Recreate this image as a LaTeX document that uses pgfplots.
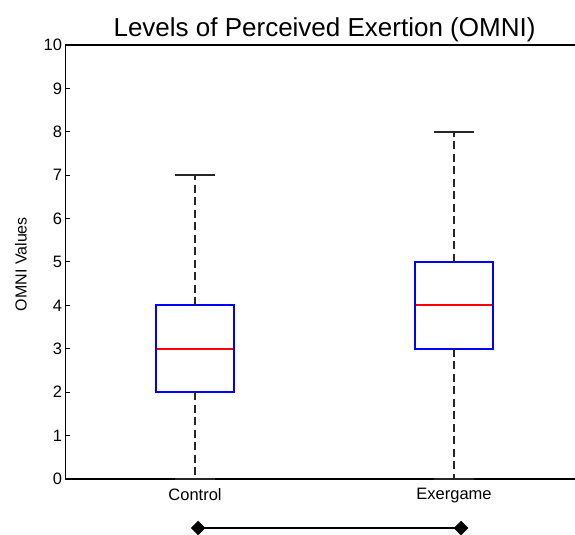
\documentclass[border=0pt]{standalone}
\usepackage{pgfplots}
\pgfplotsset{compat=1.18}
\usepackage{fontspec}
\setmainfont{Liberation Sans}
\definecolor{medred}{RGB}{255,0,0}
\definecolor{boxblue}{RGB}{0,0,255}
\begin{document}
\begin{tikzpicture}
\begin{axis}[
  scale only axis,
  width=509.5bp, height=434bp,
  xmin=0.5, xmax=2.467,
  ymin=0, ymax=10,
  axis x line*=box,
  axis y line*=left,
  axis line style={line width=1.2bp, black},
  tick align=inside,
  ytick={0,1,...,10},
  xtick={1,2},
  xticklabels={Control,Exergame},
  major x tick style={draw=none},
  major y tick style={line width=1bp, black},
  major tick length=5bp,
  /pgf/number format/assume math mode=true,
  tick label style={font=\fontsize{16.5bp}{18bp}\selectfont},
  x tick label style={yshift=-6bp},
  clip=false,
]
% Control
\addplot[draw=boxblue, line width=1.8bp, line join=miter] coordinates {(0.85,2) (1.15,2) (1.15,4) (0.85,4) (0.85,2) (1.15,2)};
\addplot[draw=medred, line width=1.6bp] coordinates {(0.852,3) (1.148,3)};
\addplot[black!85, line width=1.8bp, dash pattern=on 8bp off 4.5bp] coordinates {(1,4) (1,7)};
\addplot[black!85, line width=1.8bp, dash pattern=on 8bp off 4.5bp] coordinates {(1,2) (1,0)};
\addplot[black!85, line width=1.8bp] coordinates {(0.923,7) (1.077,7)};
\addplot[black!85, line width=1.8bp] coordinates {(0.923,0) (1.077,0)};
% Exergame
\addplot[draw=boxblue, line width=1.8bp, line join=miter] coordinates {(1.85,3) (2.15,3) (2.15,5) (1.85,5) (1.85,3) (2.15,3)};
\addplot[black!85, line width=1.8bp, dash pattern=on 8bp off 4.5bp] coordinates {(2,5) (2,8)};
\addplot[black!85, line width=1.8bp, dash pattern=on 8bp off 4.5bp] coordinates {(2,3) (2,0)};
\addplot[black!85, line width=1.8bp] coordinates {(1.923,8) (2.077,8)};
\addplot[black!85, line width=1.8bp] coordinates {(1.923,0) (2.077,0)};
\addplot[draw=medred, line width=1.6bp, solid, no marks] coordinates {(1.852,4.003) (2.148,4.003)};
% bracket line below
\addplot[black, line width=2.5bp, mark=square*, mark size=3.9bp, mark options={rotate=45, solid}] coordinates {(1.012,-1.13) (2.027,-1.13)};
% title and ylabel
\node[anchor=base, font=\fontsize{26bp}{30bp}\selectfont] at (axis cs:1.5,10.19) {Levels of Perceived Exertion (OMNI)};
\node[rotate=90, font=\fontsize{16bp}{18bp}\selectfont] at (axis cs:0.328,4.95) {OMNI Values};
\end{axis}
\pgfresetboundingbox
\path[use as bounding box] ([xshift=-65.5bp,yshift=-56bp]current axis.south west) rectangle ([xshift=509.5bp,yshift=479bp]current axis.south west);
\end{tikzpicture}
\end{document}
